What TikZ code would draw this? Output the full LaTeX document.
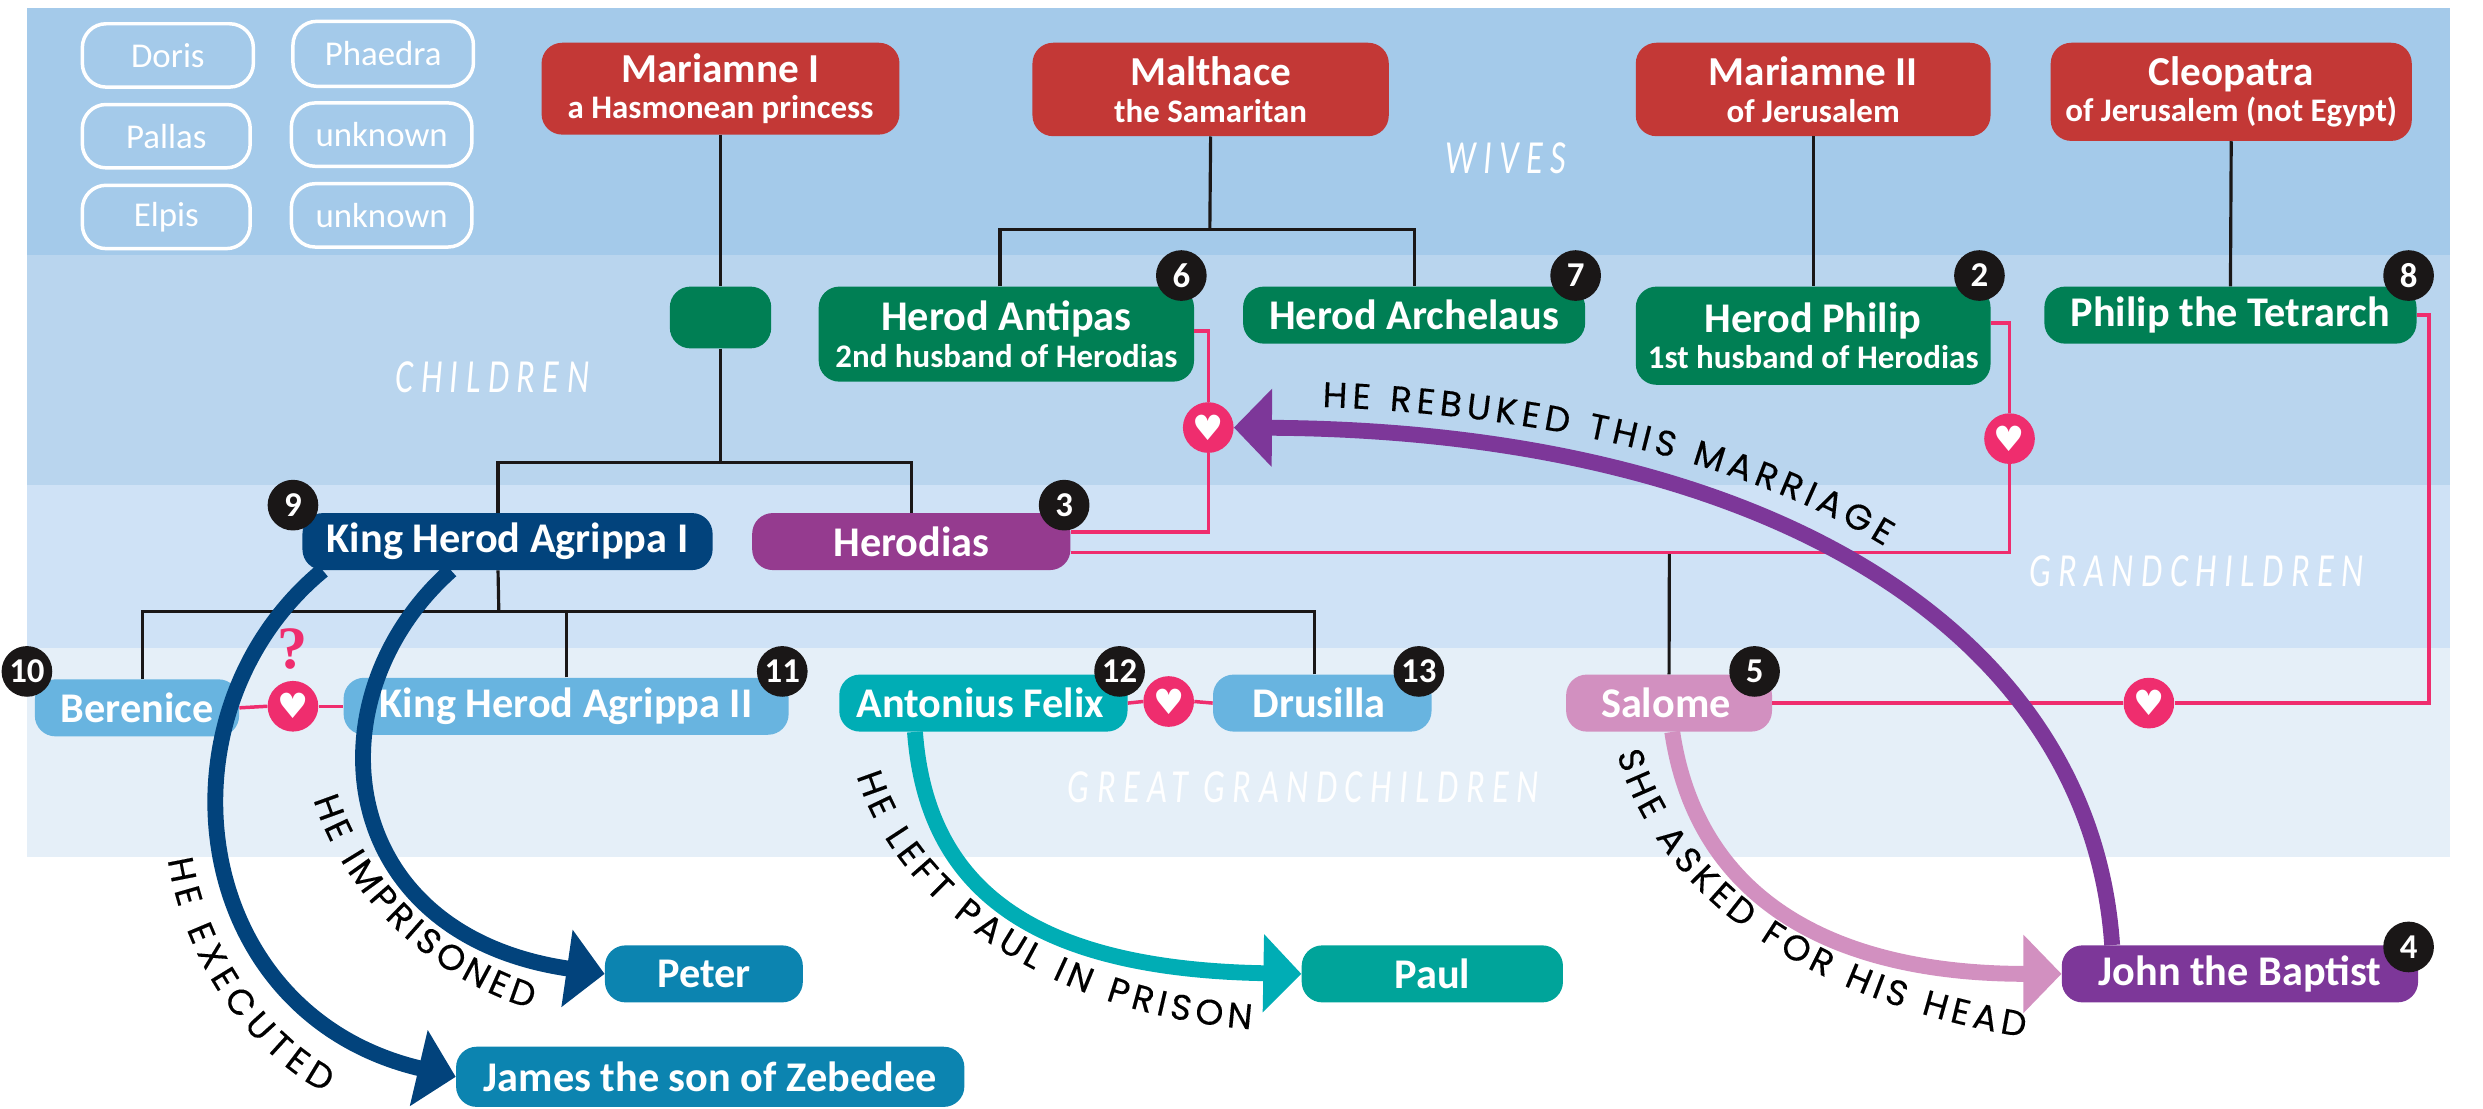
\documentclass[tikz,border=0pt]{standalone}
\usepackage{fontspec}
\setmainfont{Carlito}
\newfontfamily\curvefont[FakeBold=0.3]{Poppins}
\newfontfamily\symfont{DejaVu Sans}
\newfontfamily\bandfont[LetterSpace=16,FakeStretch=0.72]{Carlito}
\newfontfamily\quesfont{Liberation Serif}
\usepackage{tikz}
\usetikzlibrary{calc}
\usetikzlibrary{arrows.meta}
\usetikzlibrary{decorations.text}
\definecolor{bandA}{HTML}{A4CAEA}
\definecolor{bandB}{HTML}{B9D5EE}
\definecolor{bandC}{HTML}{CFE2F6}
\definecolor{bandD}{HTML}{E5EFF8}
\definecolor{Cred}{HTML}{C33836}
\definecolor{Cgreen}{HTML}{007F54}
\definecolor{Cnavy}{HTML}{02437C}
\definecolor{Cplum}{HTML}{953B8F}
\definecolor{Cviolet}{HTML}{7D3799}
\definecolor{Csky}{HTML}{68B4E0}
\definecolor{Cteal}{HTML}{00ADB5}
\definecolor{Corchid}{HTML}{D290C0}
\definecolor{Cocean}{HTML}{0C84B0}
\definecolor{Csea}{HTML}{00A49A}
\definecolor{Cpink}{HTML}{EF2D6E}
\definecolor{Cink}{HTML}{1A1717}
\newcommand{\sublabel}[1]{{\fontsize{20.8}{24}\selectfont #1}}
\newcommand{\bigname}{\fontsize{26.7}{24}\selectfont\bfseries}
\newcommand{\wifename}{\fontsize{26}{24}\selectfont\bfseries}
\tikzset{
  person/.style={rounded corners=13pt,inner sep=0pt,text=white,align=center,font=\bigname},
  wife/.style={person,fill=Cred,font=\wifename},
  child/.style={person,fill=Cgreen},
  ghost/.style={rounded corners=15pt,inner sep=0pt,draw=white,line width=2.2pt,text=white,font=\fontsize{22}{24}\selectfont},
  badge/.style={circle,fill=Cink,text=white,minimum size=32pt,inner sep=0pt,font=\fontsize{22}{22}\selectfont\bfseries},
  heartdot/.style={circle,fill=Cpink,text=white,minimum size=32pt,inner sep=0pt,font=\symfont\fontsize{22}{22}\selectfont},
  kin/.style={draw=Cink,line width=2pt},
  love/.style={draw=Cpink,line width=2.2pt},
  deed/.style={line width=10pt,-{Triangle[length=24pt,width=48pt]}},
  band/.style={text=white,font=\bandfont\itshape\fontsize{30}{30}\selectfont},
  curve/.style={decorate,decoration={text along path,text align={fit to path},text={|\curvefont\fontsize{22.5}{23}\selectfont|#1}}}
}
\begin{document}
\begin{tikzpicture}[x=1pt,y=-1pt]
\useasboundingbox (0,0) rectangle (1568,700.3);

\fill[bandA] (17,5) rectangle (1547,161);
\fill[bandB] (17,161) rectangle (1547,306);
\fill[bandC] (17,306) rectangle (1547,409);
\fill[bandD] (17,409) rectangle (1547,541);

\node[band] (wives) at (951,100) {WIVES};
\node[band] (children) at (311,238) {CHILDREN};
\node[band] (grand) at (1387,361) {GRANDCHILDREN};
\node[band] (great) at (823,497) {GREAT GRANDCHILDREN};

\node[ghost,minimum width=108pt,minimum height=40pt] (doris) at (106,35) {Doris};
\node[ghost,minimum width=114pt,minimum height=41pt] (phaedra) at (242,34) {Phaedra};
\node[ghost,minimum width=106pt,minimum height=40pt] (pallas) at (105,86) {Pallas};
\node[ghost,minimum width=114pt,minimum height=40pt] (unknownA) at (241,85) {unknown};
\node[ghost,minimum width=106pt,minimum height=40pt] (elpis) at (105,137) {Elpis};
\node[ghost,minimum width=114pt,minimum height=40pt] (unknownB) at (241,136) {unknown};

\node[wife,minimum width=226pt,minimum height=58pt] (marone) at (455,56) {Mariamne I\\[-1pt]\sublabel{a Hasmonean princess}};
\node[wife,minimum width=225pt,minimum height=59pt] (malthace) at (764.5,56.5) {Malthace\\[-1pt]\sublabel{the Samaritan}};
\node[wife,minimum width=224pt,minimum height=59pt] (martwo) at (1145,56.5) {Mariamne II\\[-1pt]\sublabel{of Jerusalem}};
\node[wife,minimum width=228pt,minimum height=62pt] (cleopatra) at (1409,58) {Cleopatra\\[-1pt]\sublabel{of Jerusalem (not Egypt)}};

\node[child,minimum width=64pt,minimum height=39pt] (blank) at (455,200.5) {};
\node[child,minimum width=237pt,minimum height=60pt] (antipas) at (635.5,211) {Herod Antipas\\[-1pt]\sublabel{2nd husband of Herodias}};
\node[child,minimum width=216pt,minimum height=36pt] (archelaus) at (893,199) {Herod Archelaus};
\node[child,minimum width=224pt,minimum height=62pt] (philip) at (1145,212) {Herod Philip\\[-1pt]\sublabel{1st husband of Herodias}};
\node[child,minimum width=235pt,minimum height=36pt] (tetrarch) at (1408.5,199) {Philip the Tetrarch};

\node[person,fill=Cnavy,minimum width=259pt,minimum height=36pt] (agrippa) at (320.5,342) {King Herod Agrippa I};
\node[person,fill=Cplum,minimum width=201pt,minimum height=36pt] (herodias) at (575.5,342) {Herodias};

\node[person,fill=Csky,minimum width=129pt,minimum height=36pt] (berenice) at (86.5,447) {Berenice};
\node[person,fill=Csky,minimum width=281pt,minimum height=36pt] (agrippatwo) at (357.5,446) {King Herod Agrippa II};
\node[person,fill=Cteal,minimum width=182pt,minimum height=36pt] (felix) at (621,444) {\hspace{-4pt}Antonius Felix};
\node[person,fill=Csky,minimum width=138pt,minimum height=36pt] (drusilla) at (835,444) {\hspace{-4pt}Drusilla};
\node[person,fill=Corchid,minimum width=130pt,minimum height=36pt] (salome) at (1054,444) {\hspace{-4pt}Salome};

\node[person,fill=Cocean,minimum width=125pt,minimum height=36pt] (peter) at (444.5,615) {Peter};
\node[person,fill=Cocean,minimum width=321pt,minimum height=38pt] (james) at (448.5,680) {James the son of Zebedee};
\node[person,fill=Csea,minimum width=165pt,minimum height=36pt] (paul) at (904.5,615) {Paul};
\node[person,fill=Cviolet,minimum width=225pt,minimum height=36pt] (john) at (1414.5,615) {John the Baptist};

\node[heartdot] (heartA) at (763,270) {♥};
\node[heartdot] (heartB) at (1269,277) {♥};
\node[heartdot] (heartC) at (185,446) {♥};
\node[heartdot] (heartD) at (738,443) {♥};
\node[heartdot] (heartE) at (1357,444) {♥};
\node[text=Cpink,font=\quesfont\bfseries\fontsize{38}{38}\selectfont] (ques) at (185,410) {?};

\coordinate (barA) at (455,292);
\coordinate (barB) at (764,145);
\coordinate (barC) at (315,386);
\coordinate (tetcorner) at (1534,444);

\draw[kin] (marone.south) -- (blank.north);
\draw[kin] (blank.south) -- (barA);
\draw[kin] ($(agrippa.north)+(-6,0)$) |- (barA) -| (herodias.north);
\draw[kin] (malthace.south) -- (barB);
\draw[kin] ($(antipas.north)+(-4,0)$) |- (barB) -| (archelaus.north);
\draw[kin] (martwo.south) -- (philip.north);
\draw[kin] (cleopatra.south) -- (tetrarch.north);
\draw[kin] ($(agrippa.south)+(-6,0)$) -- (barC);
\draw[kin] ($(berenice.north)+(3.5,0)$) |- (barC);
\draw[kin] (agrippatwo.north) |- (barC);
\draw[kin] ($(drusilla.north)+(-5,0)$) |- (barC);
\draw[kin] (salome.north) -- ($(herodias.east)+(378,7)$);

\draw[love] ($(antipas.east)+(0,-2)$) -| (heartA.north);
\draw[love] (heartA.south) |- ($(herodias.east)+(0,-6)$);
\draw[love] ($(philip.east)+(0,-8)$) -| (heartB.north);
\draw[love] (heartB.south) |- ($(herodias.east)+(0,7)$);
\draw[love] (tetrarch.east) -| (tetcorner) -- (heartE.east);
\draw[love] (heartE.west) -- (salome.east);
\draw[love] (heartC.west) -- (berenice.east);
\draw[love] (heartC.east) -- (agrippatwo.west);
\draw[love] (heartD.west) -- (felix.east);
\draw[love] (heartD.east) -- (drusilla.west);

\draw[deed,color=Cnavy] ($(agrippa.south west)+(13,0)$) .. controls (95,450) and (118,640) .. (james.west);
\draw[deed,color=Cnavy] ($(agrippa.south west)+(94,0)$) .. controls (195,440) and (210,590) .. (peter.west);
\draw[deed,color=Cteal] ($(felix.south west)+(48,0)$) .. controls (585,560) and (650,612) .. (paul.west);
\draw[deed,color=Corchid] ($(salome.south)+(2,0)$) .. controls (1072,570) and (1160,615) .. (john.west);
\draw[deed,color=Cviolet] ($(john.north west)+(32,0)$) .. controls (1320,395) and (1110,272) .. (heartA.east);

\path[curve={HE EXECUTED}] (106,543) .. controls (115,600) and (150,660) .. (205,690);
\path[curve={HE IMPRISONED}] (198,505) .. controls (215,560) and (265,615) .. (335,637);
\path[curve={HE LEFT PAUL IN PRISON}] (541,490) .. controls (565,570) and (660,640) .. (790,650);
\path[curve={SHE ASKED FOR HIS HEAD}] (1021,476) .. controls (1045,560) and (1130,630) .. (1278,655);
\path[curve={HE REBUKED THIS MARRIAGE}] (835,257) .. controls (970,262) and (1100,290) .. (1190,345);

\node[badge] (two) at (1250,174) {2};
\node[badge] (three) at (672,319) {3};
\node[badge] (four) at (1521,598) {4};
\node[badge] (five) at (1108,424) {5};
\node[badge] (six) at (746,174) {6};
\node[badge] (seven) at (995,174) {7};
\node[badge] (eight) at (1521,174) {8};
\node[badge] (nine) at (185,319) {9};
\node[badge] (ten) at (17,424) {10};
\node[badge] (eleven) at (494,424) {11};
\node[badge] (twelve) at (707,424) {12};
\node[badge] (thirteen) at (896,424) {13};
\end{tikzpicture}
\end{document}
